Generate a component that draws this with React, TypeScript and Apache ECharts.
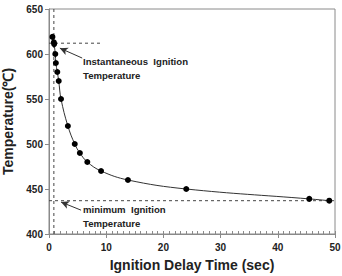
import React, { useEffect, useRef } from "react";
import * as echarts from "echarts";

// Ignition delay time (sec) vs. furnace temperature (℃)
const delayTime = [0.6, 0.85, 0.9, 1.1, 1.2, 1.45, 1.7, 2.1, 3.3, 4.5, 5.4, 6.7, 9.1, 13.8, 24, 45.5, 49];
const temperature = [619, 613, 611, 600, 590, 580, 570, 550, 520, 500, 490, 480, 470, 460, 450, 439, 437];

// Reference levels
const instantIgnitionTemp = 612;
const instantIgnitionTime = 0.85;
const instantLineEnd = 9.4;
const minIgnitionTemp = 437;

const xTicks = [0, 10, 20, 30, 40, 50];
const yTicks = [400, 450, 500, 550, 600, 650];

const FONT = "Liberation Sans, Arial, sans-serif";

export default function App() {
  const ref = useRef<HTMLDivElement>(null);

  useEffect(() => {
    if (!ref.current) return;
    const chart = echarts.init(ref.current, undefined, { renderer: "svg" });
    const pts = delayTime.map((t, i) => [t, temperature[i]]);
    const dashed = { color: "#444", width: 1, type: [3, 3] as any };

    chart.setOption({
      animation: false,
      grid: {
        left: 49,
        right: 7,
        top: 9,
        bottom: 42,
        show: true,
        borderColor: "#8a8a8a",
        borderWidth: 1,
        containLabel: false,
        outerBoundsMode: "none",
      },
      xAxis: [
        {
          type: "value",
          min: xTicks[0],
          max: xTicks[xTicks.length - 1],
          interval: 10,
          name: "Ignition Delay Time (sec)",
          nameLocation: "middle",
          nameGap: 24,
          nameTextStyle: { fontFamily: FONT, fontWeight: "bold", fontSize: 14, color: "#222" },
          axisLine: { lineStyle: { color: "#8a8a8a" } },
          axisTick: { length: 4, lineStyle: { color: "#8a8a8a" } },
          axisLabel: { fontFamily: FONT, fontWeight: "bold", fontSize: 10, color: "#222", margin: 8 },
          splitLine: { show: false },
        },
        {
          type: "value",
          position: "bottom",
          min: xTicks[0],
          max: xTicks[xTicks.length - 1],
          interval: 1,
          axisLine: { show: false },
          axisTick: { inside: true, length: 3, lineStyle: { color: "#8a8a8a" } },
          axisLabel: { show: false },
          splitLine: { show: false },
        },
      ],
      yAxis: {
        type: "value",
        min: yTicks[0],
        max: yTicks[yTicks.length - 1],
        interval: 50,
        name: "Temperature(℃)",
        nameLocation: "middle",
        nameGap: 28,
        nameTextStyle: { fontFamily: FONT, fontWeight: "bold", fontSize: 14, color: "#222" },
        axisLine: { show: true, lineStyle: { color: "#8a8a8a" } },
        axisTick: { show: true, length: 4, lineStyle: { color: "#8a8a8a" } },
        axisLabel: { fontFamily: FONT, fontWeight: "bold", fontSize: 10, color: "#222", margin: 6 },
        splitLine: { show: false },
      },
      series: [
        {
          type: "line",
          data: [
            [instantIgnitionTime, yTicks[0]],
            [instantIgnitionTime, yTicks[yTicks.length - 1]],
          ],
          symbol: "none",
          lineStyle: dashed,
          silent: true,
        },
        {
          type: "line",
          data: [
            [xTicks[0], instantIgnitionTemp],
            [instantLineEnd, instantIgnitionTemp],
          ],
          symbol: "none",
          lineStyle: dashed,
          silent: true,
        },
        {
          type: "line",
          data: [
            [xTicks[0], minIgnitionTemp],
            [xTicks[xTicks.length - 1], minIgnitionTemp],
          ],
          symbol: "none",
          lineStyle: dashed,
          silent: true,
        },
        {
          type: "line",
          data: pts,
          smooth: 0.4,
          symbol: "circle",
          symbolSize: 6,
          itemStyle: { color: "#000" },
          lineStyle: { color: "#333", width: 1 },
          markLine: {
            silent: true,
            symbol: ["arrow", "none"],
            symbolSize: [6, 8],
            label: { show: false },
            lineStyle: { color: "#333", width: 1, type: "solid" },
            data: [
              [{ coord: [1.9, 606.5] }, { coord: [5.8, 595.5] }],
              [{ coord: [2.1, 435.5] }, { coord: [5.6, 426.5] }],
            ],
          },
        },
      ],
      graphic: [
        {
          type: "text",
          left: 83,
          top: 54,
          style: {
            text: "Instantaneous  Ignition\nTemperature",
            fontFamily: FONT,
            fontWeight: "bold",
            fontSize: 9.6,
            lineHeight: 14,
            fill: "#222",
          },
        },
        {
          type: "text",
          left: 83,
          top: 202,
          style: {
            text: "minimum  Ignition\nTemperature",
            fontFamily: FONT,
            fontWeight: "bold",
            fontSize: 9.6,
            lineHeight: 14,
            fill: "#222",
          },
        },
      ],
    });

    return () => chart.dispose();
  }, []);

  return <div ref={ref} style={{ width: 342, height: 276, position: "absolute", left: 0, top: 0 }} />;
}
